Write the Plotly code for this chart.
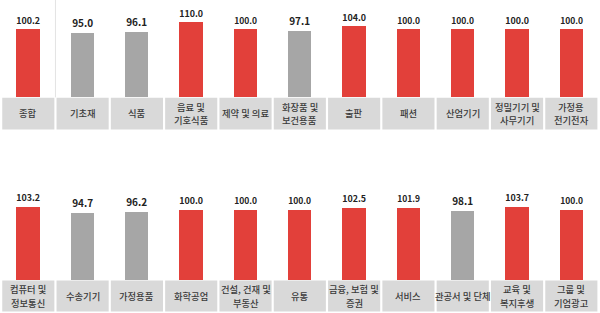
import plotly.graph_objects as go

top_cats = ["종합", "기초재", "식품", "음료 및<br>기호식품", "제약 및 의료", "화장품 및<br>보건용품",
            "출판", "패션", "산업기기", "정밀기기 및<br>사무기기", "가정용<br>전기전자"]
top_vals = [100.2, 95.0, 96.1, 110.0, 100.0, 97.1, 104.0, 100.0, 100.0, 100.0, 100.0]

bot_cats = ["컴퓨터 및<br>정보통신", "수송기기", "가정용품", "화학공업", "건설, 건재 및<br>부동산", "유통",
            "금융, 보험 및<br>증권", "서비스", "관공서 및 단체", "교육 및<br>복지후생", "그룹 및<br>기업광고"]
bot_vals = [103.2, 94.7, 96.2, 100.0, 100.0, 100.0, 102.5, 101.9, 98.1, 103.7, 100.0]

RED = "#e2403a"
GRAY = "#a6a6a6"
BOX = "#d9d9d9"
FONT = "Noto Sans CJK KR"

def colors(vals):
    return [RED if v >= 100 else GRAY for v in vals]

fig = go.Figure()
W, H = 600, 313

def py(p):
    return 1 - p / H

rows = [
    dict(cats=top_cats, vals=top_vals, xa="x", ya="y", base=97.3, scale=0.678, box_bot=129.5),
    dict(cats=bot_cats, vals=bot_vals, xa="x2", ya="y2", base=280.0, scale=0.705, box_bot=311.5),
]
yr = 115
LINE_H = 13.5
shapes, annots = [], []
for k, r in enumerate(rows):
    xs = list(range(len(r["cats"])))
    fig.add_trace(go.Bar(
        x=xs, y=r["vals"], xaxis=r["xa"], yaxis=r["ya"],
        marker=dict(color=colors(r["vals"]), line=dict(width=0)),
        width=0.43,
        text=[f"{v:.1f}" for v in r["vals"]], textposition="outside",
        textfont=dict(family=FONT, size=10, color="#222222", weight="bold"),
        cliponaxis=False, showlegend=False, hoverinfo="skip",
    ))
    top_px = r["base"] - r["scale"] * yr
    dom = [py(r["base"]), py(top_px)]
    axn = "" if k == 0 else "2"
    fig.layout["xaxis" + axn] = dict(domain=[1.15 / W, 598.5 / W], range=[-0.5, len(xs) - 0.5],
                                     visible=False, fixedrange=True, anchor="y" + axn)
    fig.layout["yaxis" + axn] = dict(domain=dom, range=[0, yr], visible=False, fixedrange=True,
                                     anchor="x" + axn)
    center = (r["base"] + r["box_bot"]) / 2
    for i, c in enumerate(r["cats"]):
        shapes.append(dict(type="rect", xref=r["xa"], yref="paper", x0=i - 0.48, x1=i + 0.48,
                           y0=py(r["box_bot"]), y1=py(r["base"] + 0.5), fillcolor=BOX,
                           line=dict(width=0), layer="below"))
        lines = c.split("<br>")
        n = len(lines)
        for j, ln in enumerate(lines):
            yc = center + (j - (n - 1) / 2) * LINE_H
            annots.append(dict(x=i, y=py(yc), xref=r["xa"], yref="paper",
                               xanchor="center", yanchor="middle",
                               text=ln, showarrow=False, align="center",
                               font=dict(family=FONT, size=9.3, color="#3a3a3a", weight=500)))

shapes.append(dict(type="line", xref="x", yref="paper", x0=0.5, x1=0.5, y0=1, y1=py(97.3),
                   line=dict(color="#e3e3e3", width=1)))

fig.update_layout(width=W, height=H, margin=dict(l=0, r=0, t=0, b=0),
                  paper_bgcolor="white", plot_bgcolor="white",
                  shapes=shapes, annotations=annots, bargap=0)
fig.write_html("out.html")
